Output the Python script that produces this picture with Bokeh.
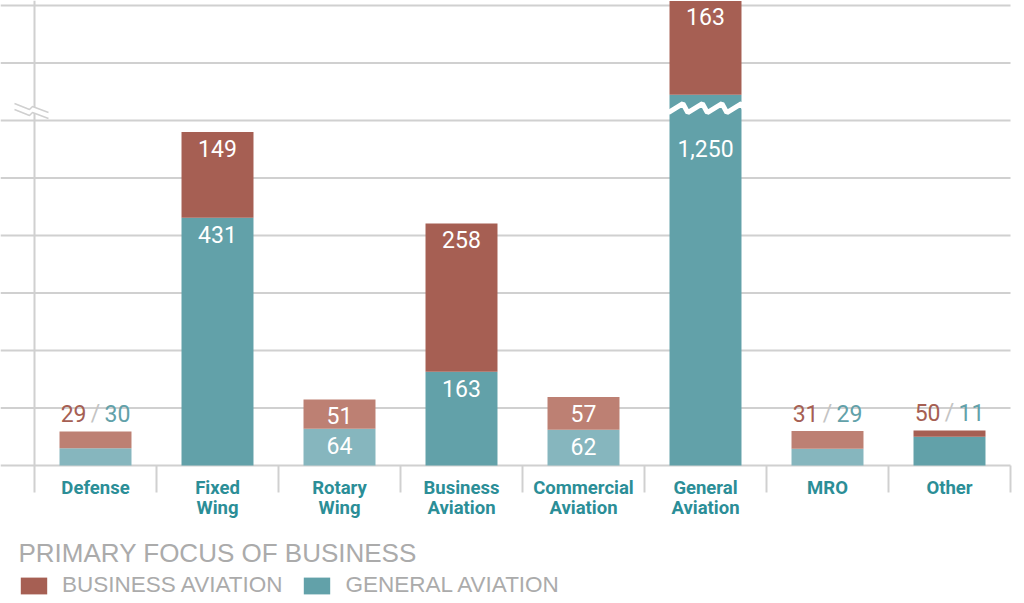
from bokeh.plotting import figure
from bokeh.models import Range1d, ColumnDataSource, Legend, LegendItem
from bokeh.core.properties import value
from bokeh.embed import file_html
from bokeh.resources import INLINE

# ---------------- data ----------------
categories = ["Defense", "Fixed\nWing", "Rotary\nWing", "Business\nAviation",
              "Commercial\nAviation", "General\nAviation", "MRO", "Other"]
business_aviation = [29, 149, 51, 258, 57, 163, 31, 11]
general_aviation = [30, 431, 64, 163, 62, 1250, 29, 50]
# value labels as printed on the chart
business_labels = ["29", "149", "51", "258", "57", "163", "31", "50"]
general_labels = ["30", "431", "64", "163", "62", "1,250", "29", "11"]
grid_values = [0, 100, 200, 300, 400, 500, 600, 700, 800]
title_text = "PRIMARY FOCUS OF BUSINESS"
series_names = ["BUSINESS AVIATION", "GENERAL AVIATION"]

# ---------------- styles / layout ----------------
light = [True, False, True, False, True, False, True, False]
labels_outside = [True, False, False, False, False, False, True, True]
BREAK_AT = 645          # displayed height where an over-tall bar is cut
DARK_RED, LIGHT_RED = "#a65f53", "#bd8073"
DARK_TEAL, LIGHT_TEAL = "#62a1a9", "#86b6be"
CAT_COLOR = "#2b8e97"
GRID_COLOR = "#d0d0d0"
NUMF = value("Roboto")
SANS = value("Liberation Sans")

W, H = 1012, 598

# pixel helpers
def X(px):
    return (px - 34) / 122.0

def Y(py):
    return (465 - py) / 0.575

def DY(dpx):
    return dpx / 0.575

n = len(categories)
centers = [i + 0.5 for i in range(n)]
BAR_W = 0.59

p = figure(width=W, height=H,
           x_range=Range1d(X(0), X(W)), y_range=Range1d(Y(H), Y(0)),
           x_axis_type=None, y_axis_type=None,
           output_backend="svg", toolbar_location=None,
           min_border=0, outline_line_color=None)
p.background_fill_color = "white"

# grid lines
p.segment(x0=[X(0)] * len(grid_values), y0=grid_values,
          x1=[n] * len(grid_values), y1=grid_values,
          line_color=GRID_COLOR, line_width=2)
# left axis line and category separators
p.segment(x0=[0], y0=[Y(492)], x1=[0], y1=[Y(0)], line_color=GRID_COLOR, line_width=2)
p.segment(x0=list(range(1, n + 1)), y0=[0] * n, x1=list(range(1, n + 1)), y1=[Y(492)] * n,
          line_color=GRID_COLOR, line_width=2)

# displayed values (broken bars are cut at BREAK_AT)
broken = [g > grid_values[-1] for g in general_aviation]
ga_top = [BREAK_AT if b else g for g, b in zip(general_aviation, broken)]
ba_top = [t + b for t, b in zip(ga_top, business_aviation)]

src = ColumnDataSource(dict(
    x=centers, ga_top=ga_top, ba_top=ba_top,
    ga_color=[LIGHT_TEAL if l else DARK_TEAL for l in light],
    ba_color=[LIGHT_RED if l else DARK_RED for l in light],
))
r_ga = p.vbar(x="x", width=BAR_W, bottom=0, top="ga_top", fill_color="ga_color",
              line_color=None, source=src)
r_ba = p.vbar(x="x", width=BAR_W, bottom="ga_top", top="ba_top", fill_color="ba_color",
              line_color=None, source=src)

# zig-zag break across over-tall bars
for i, b in enumerate(broken):
    if not b:
        continue
    left = centers[i] - BAR_W / 2 - 0.01
    right = centers[i] + BAR_W / 2 + 0.04
    lo = ga_top[i] - DY(18)
    hi = ga_top[i] - DY(9)
    teeth = 4
    w = (right - left) / teeth
    xs, ys = [left], [lo]
    for k in range(teeth):
        x0 = left + k * w
        xs += [x0 + 0.75 * w, x0 + w]
        ys += [hi, lo]
    p.line(xs, ys, line_color="white", line_width=5)

# axis break mark on the left axis line
bx = [X(14), X(29), X(32), X(48)]
up = [Y(103), Y(109), Y(106), Y(112)]
dn = [Y(109), Y(115), Y(112), Y(118)]
p.patch(bx + bx[::-1], up + dn[::-1], fill_color="white", line_color=None)
p.line(bx, up, line_color=GRID_COLOR, line_width=1.5)
p.line(bx, dn, line_color=GRID_COLOR, line_width=1.5)

# value labels inside bars
in_x, in_y, in_t, in_off = [], [], [], []
for i in range(n):
    if labels_outside[i]:
        continue
    in_x += [centers[i], centers[i]]
    in_y += [ga_top[i], ba_top[i]]
    in_t += [general_labels[i], business_labels[i]]
    in_off += [54 if broken[i] else 17, 16]
p.text(x=in_x, y=in_y, text=in_t, y_offset=in_off, text_align="center",
       text_baseline="middle", text_color="white", text_font=NUMF,
       text_font_size="23px")

# value labels above small bars: "red / teal"
ox = [centers[i] for i in range(n) if labels_outside[i]]
oy = [ba_top[i] for i in range(n) if labels_outside[i]]
common = dict(y_offset=-18, text_baseline="middle", text_font=NUMF, text_font_size="23px")
p.text(x=ox, y=oy, text=[business_labels[i] for i in range(n) if labels_outside[i]],
       x_offset=-9, text_align="right", text_color=DARK_RED, **common)
p.text(x=ox, y=oy, text=["/"] * len(ox), x_offset=0,
       text_align="center", text_color="#c4c4c4", **common)
p.text(x=ox, y=oy, text=[general_labels[i] for i in range(n) if labels_outside[i]],
       x_offset=9, text_align="left", text_color=DARK_TEAL, **common)

# category labels
p.text(x=centers, y=[Y(476)] * n, text=categories, text_align="center",
       text_baseline="top", text_color=CAT_COLOR, text_font=NUMF,
       text_font_style="bold", text_font_size="18.5px", text_line_height=0.95)

# title below the chart
p.text(x=[X(18)], y=[Y(552)], text=[title_text], text_align="left",
       text_baseline="middle", text_color="#ababab", text_font=SANS,
       text_font_size="26px")

legend = Legend(items=[LegendItem(label=series_names[0], renderers=[r_ba], index=1),
                       LegendItem(label=series_names[1], renderers=[r_ga], index=1)],
                orientation="horizontal", location=(17, 0),
                padding=0, margin=0, spacing=18, label_standoff=12,
                glyph_width=33, glyph_height=21, label_height=21,
                border_line_color=None, background_fill_alpha=0,
                label_text_color="#ababab", label_text_font="Liberation Sans",
                label_text_font_size="22.5px", label_text_baseline="middle")
p.add_layout(legend, "center")

open("out.html", "w").write(file_html(p, INLINE))
